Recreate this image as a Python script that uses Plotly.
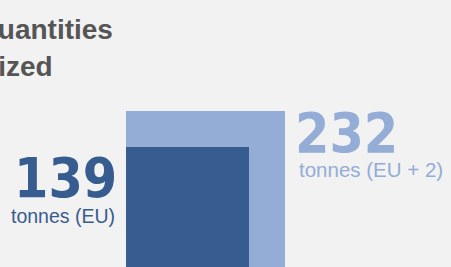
import math
import plotly.graph_objects as go

# Data
categories = ["EU", "EU + 2"]
values = [139, 232]
units = ["tonnes (EU)", "tonnes (EU + 2)"]
colors = ["#375c8f", "#93add6"]
title_lines = ["Quantities", "seized"]

W, H = 451, 267
px_per_unit = 159 / math.sqrt(max(values))
x0_px = 126      # left edge of squares
base_px = 270    # bottom of squares (slightly below the frame)

sides = [math.sqrt(v) for v in values]

fig = go.Figure()
# draw the larger square first, then the smaller one on top
for i in sorted(range(len(values)), key=lambda k: -values[k]):
    s = sides[i]
    fig.add_trace(go.Bar(
        x=[s / 2], y=[s], width=[s], base=[0],
        marker=dict(color=colors[i], line=dict(width=0)),
        hoverinfo="skip", showlegend=False,
    ))

xr = [-x0_px / px_per_unit, (W - x0_px) / px_per_unit]
yr = [(base_px - H) / px_per_unit, base_px / px_per_unit]

fig.update_layout(
    width=W, height=H,
    margin=dict(l=0, r=0, t=0, b=0),
    paper_bgcolor="#f2f2f2", plot_bgcolor="#f2f2f2",
    barmode="overlay", bargap=0,
    xaxis=dict(range=xr, visible=False, fixedrange=True),
    yaxis=dict(range=yr, visible=False, fixedrange=True),
)

def px(xp):
    return xp / W

def py(yp):
    return 1 - yp / H

title_font = dict(family="Liberation Sans, Arial, sans-serif", size=28, color="#555555")
# Title lines (partly cut by the left edge, as in the original)
fig.add_annotation(text="<b>%s</b>" % title_lines[0], xref="paper", yref="paper",
                   x=px(-26), y=py(29), xanchor="left", yanchor="middle",
                   showarrow=False, font=title_font)
fig.add_annotation(text="<b>%s</b>" % title_lines[1], xref="paper", yref="paper",
                   x=px(-35), y=py(67), xanchor="left", yanchor="middle",
                   showarrow=False, font=title_font)

num_font_family = "DejaVu Sans Condensed, DejaVu Sans, sans-serif"
unit_font_family = "Liberation Sans, Arial, sans-serif"

# Value labels: small (EU) on the left, big (EU + 2) on the right
fig.add_annotation(text="<b>%d</b>" % values[0], xref="paper", yref="paper",
                   x=px(119), y=py(178), xanchor="right", yanchor="middle",
                   showarrow=False, font=dict(family=num_font_family, size=55, color=colors[0]))
fig.add_annotation(text=units[0], xref="paper", yref="paper",
                   x=px(117), y=py(216), xanchor="right", yanchor="middle",
                   showarrow=False, font=dict(family=unit_font_family, size=19.5, color=colors[0]))
fig.add_annotation(text="<b>%d</b>" % values[1], xref="paper", yref="paper",
                   x=px(293), y=py(133), xanchor="left", yanchor="middle",
                   showarrow=False, font=dict(family=num_font_family, size=55, color=colors[1]))
fig.add_annotation(text=units[1], xref="paper", yref="paper",
                   x=px(297), y=py(169), xanchor="left", yanchor="middle",
                   showarrow=False, font=dict(family=unit_font_family, size=20.5, color=colors[1]))

fig.write_html("out.html", config={"displayModeBar": False},
               post_script="document.body.style.margin='0';document.body.style.overflow='hidden';")
